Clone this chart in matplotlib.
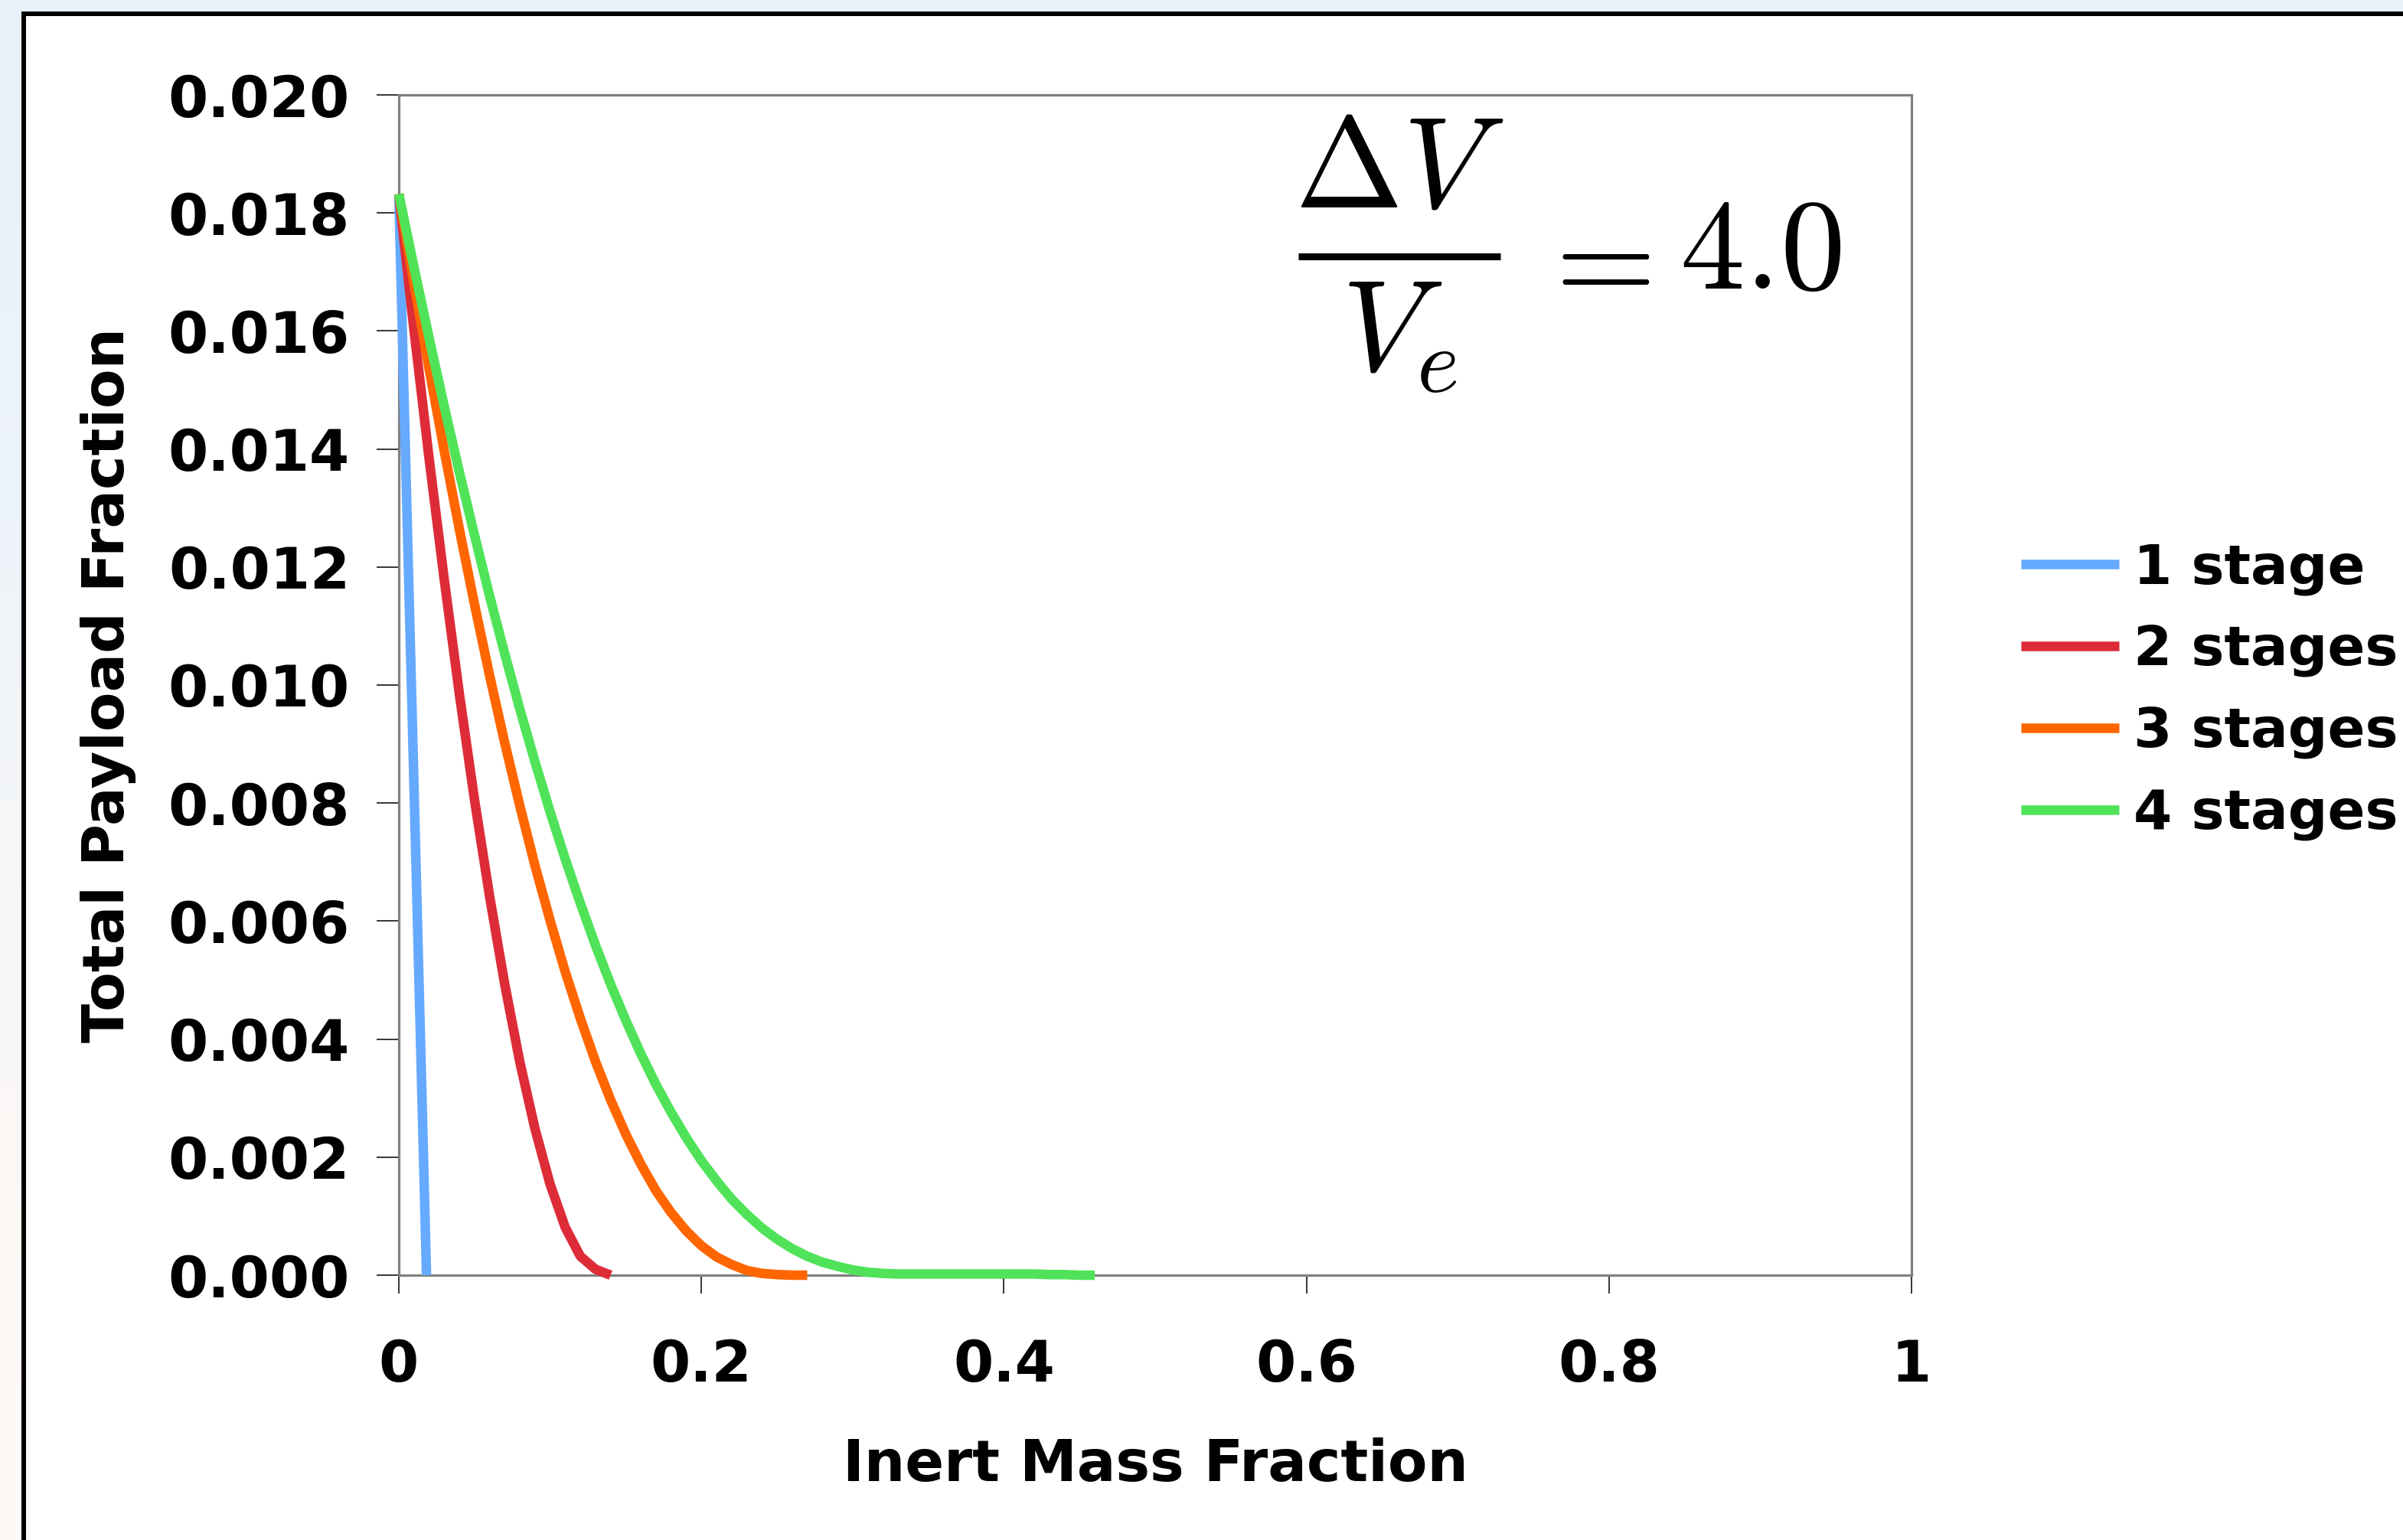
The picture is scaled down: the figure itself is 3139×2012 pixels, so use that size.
import matplotlib
matplotlib.use("Agg")
import matplotlib.pyplot as plt
import numpy as np
from matplotlib.patches import Rectangle
from matplotlib.lines import Line2D
from matplotlib.ticker import FixedLocator, FixedFormatter

# ---------------- data ----------------
inert_fraction = [0.00, 0.01, 0.02, 0.03, 0.04, 0.05, 0.06, 0.07, 0.08, 0.09,
                  0.10, 0.11, 0.12, 0.13, 0.14, 0.15, 0.16, 0.17, 0.18, 0.19,
                  0.20, 0.21, 0.22, 0.23, 0.24, 0.25, 0.26, 0.27, 0.28, 0.29,
                  0.30, 0.31, 0.32, 0.33, 0.34, 0.35, 0.36, 0.37, 0.38, 0.39,
                  0.40, 0.41, 0.42, 0.43, 0.44, 0.45, 0.46]

one_stage_x = [0.0, 0.01, 0.0183]
one_stage = [0.0183, 0.0083, 0.0]

two_stages = [0.01832, 0.01602, 0.01384, 0.01179, 0.00985, 0.00806, 0.00642,
              0.00493, 0.00361, 0.00248, 0.00154, 0.00081, 0.00032, 0.00010,
              0.0]

three_stages = [0.01832, 0.01681, 0.01536, 0.01397, 0.01264, 0.01137, 0.01016,
                0.00902, 0.00795, 0.00694, 0.00601, 0.00514, 0.00435, 0.00362,
                0.00297, 0.00239, 0.00188, 0.00143, 0.00106, 0.00075, 0.00050,
                0.00031, 0.00018, 0.00008, 0.00003, 0.00001, 0.0, 0.0]

four_stages = [0.01832, 0.01708, 0.01588, 0.01472, 0.01361, 0.01254, 0.01151,
               0.01053, 0.00959, 0.00870, 0.00785, 0.00705, 0.00630, 0.00559,
               0.00493, 0.00432, 0.00375, 0.00323, 0.00276, 0.00233, 0.00194,
               0.00160, 0.00129, 0.00103, 0.00080, 0.00061, 0.00045, 0.00032,
               0.00022, 0.00015, 0.00009, 0.00005, 0.00003, 0.00002, 0.00002,
               0.00002, 0.00002, 0.00002, 0.00002, 0.00002, 0.00002, 0.00002,
               0.00002, 0.00001, 0.00001, 0.0, 0.0]

series_labels = ["1 stage", "2 stages", "3 stages", "4 stages"]
series_colors = ["#66AAFF", "#DD2C38", "#FF6600", "#50E35A"]

x_ticks = [0, 0.2, 0.4, 0.6, 0.8, 1.0]
x_tick_labels = ["0", "0.2", "0.4", "0.6", "0.8", "1"]
y_ticks = [0.000, 0.002, 0.004, 0.006, 0.008, 0.010, 0.012, 0.014, 0.016, 0.018, 0.020]
y_tick_labels = ["0.000", "0.002", "0.004", "0.006", "0.008", "0.010",
                 "0.012", "0.014", "0.016", "0.018", "0.020"]

# ---------------- figure ----------------
plt.rcParams['font.family'] = ['DejaVu Sans']
plt.rcParams['font.weight'] = 'bold'
plt.rcParams['mathtext.fontset'] = 'cm'

W, H = 3139, 2012
fig = plt.figure(figsize=(W / 100, H / 100), dpi=100)

# background gradient (slide background)
bg = fig.add_axes([0, 0, 1, 1], zorder=-10)
bg.axis('off')
stops_y = [0.0, 0.35, 0.6, 0.8, 1.0]
stops_c = [(0.91, 0.945, 0.98), (0.93, 0.955, 0.975), (0.97, 0.97, 0.972),
           (0.99, 0.973, 0.96), (0.995, 0.98, 0.97)]
yy = np.linspace(0, 1, 256)
grad = np.zeros((256, 1, 3))
for k in range(3):
    grad[:, 0, k] = np.interp(yy, stops_y, [c[k] for c in stops_c])
bg.imshow(grad, aspect='auto', extent=[0, 1, 0, 1], origin='upper')
bg.set_xlim(0, 1)
bg.set_ylim(0, 1)

# white chart area with black frame
frame = Rectangle((31 / W, -0.05), 1.2, (H - 18) / H + 0.05,
                  transform=fig.transFigure, facecolor='white',
                  edgecolor='black', linewidth=4.3, zorder=-5)
fig.patches.append(frame)

ax = fig.add_axes([521 / W, (H - 1666) / H, 1976 / W, 1542 / H])
ax.set_facecolor('white')

lw = 9.0
ax.plot(one_stage_x, one_stage, color=series_colors[0], lw=lw,
        label=series_labels[0], zorder=3, clip_on=False, solid_capstyle='butt')
ax.plot(inert_fraction[:len(two_stages)], two_stages, color=series_colors[1], lw=lw,
        label=series_labels[1], zorder=3, clip_on=False, solid_capstyle='butt')
ax.plot(inert_fraction[:len(three_stages)], three_stages, color=series_colors[2], lw=lw,
        label=series_labels[2], zorder=3, clip_on=False, solid_capstyle='butt')
ax.plot(inert_fraction[:len(four_stages)], four_stages, color=series_colors[3], lw=lw,
        label=series_labels[3], zorder=3, clip_on=False, solid_capstyle='butt')

ax.set_xlim(0, 1)
ax.set_ylim(0, 0.020)

ax.xaxis.set_major_locator(FixedLocator(x_ticks))
ax.xaxis.set_major_formatter(FixedFormatter(x_tick_labels))
ax.yaxis.set_major_locator(FixedLocator(y_ticks))
ax.yaxis.set_major_formatter(FixedFormatter(y_tick_labels))

fs = 54
ax.tick_params(axis='y', direction='out', length=21, width=1.1, color='black',
               labelsize=fs, pad=25)
ax.tick_params(axis='x', direction='out', length=17, width=1.1, color='black',
               labelsize=fs, pad=42)
for lab in ax.get_xticklabels() + ax.get_yticklabels():
    lab.set_fontweight('bold')

for s in ax.spines.values():
    s.set_color('#808080')
    s.set_linewidth(2.3)

ax.set_xlabel("Inert Mass Fraction", fontsize=fs, fontweight='bold')
ax.xaxis.set_label_coords(0.5, (1666 - 1914) / 1542)
ax.xaxis.label.set_va('center')
ax.set_ylabel("Total Payload Fraction", fontsize=fs, fontweight='bold')
ax.yaxis.set_label_coords((142 - 521) / 1976, 0.5)
ax.yaxis.label.set_va('center')

# annotation formula  (Delta V / V_e = 4.0), laid out as in display style
mfs = 122
fig.text(1828 / W, (H - 270) / H, r'$\Delta V$', fontsize=mfs,
         ha='center', va='baseline', color='black')
fig.text(1828 / W, (H - 484) / H, r'$V_e$', fontsize=mfs,
         ha='center', va='baseline', color='black')
fig.add_artist(Line2D([1696 / W, 1960 / W], [(H - 335) / H, (H - 335) / H],
                      transform=fig.transFigure, color='black', lw=6.5,
                      solid_capstyle='butt'))
fig.text(2002 / W, (H - 393) / H, r'$=$', fontsize=mfs,
         ha='left', va='baseline', color='black')
fig.text(2194 / W, (H - 377) / H, r'$4.0$', fontsize=mfs,
         ha='left', va='baseline', color='black')

lfs = 52
leg = ax.legend(loc='upper left', bbox_to_anchor=(2640 / W, (H - 708) / H),
                bbox_transform=fig.transFigure, frameon=False,
                prop={'size': lfs, 'weight': 'bold'},
                handlelength=1.77, handletextpad=0.26, labelspacing=0.52,
                borderpad=0, borderaxespad=0)
for line in leg.get_lines():
    line.set_linewidth(lw)

fig.savefig("out.png", dpi=100)
